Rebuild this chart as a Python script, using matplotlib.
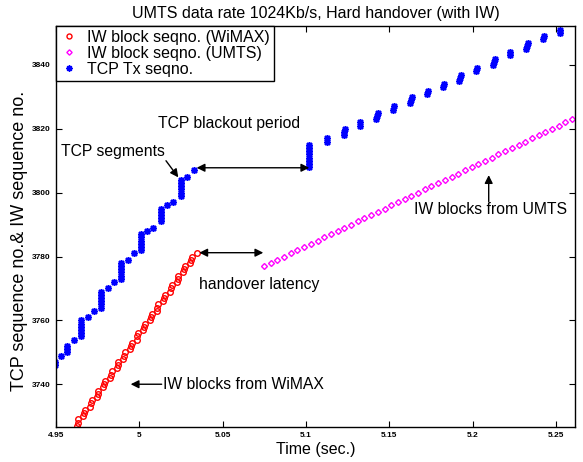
import matplotlib.pyplot as plt

plt.rcParams['font.family'] = ['Liberation Sans', 'DejaVu Sans']

# IW blocks delivered over WiMAX before the handover
wimax_time = [
    4.9624, 4.9629, 4.9634,
    4.9664, 4.9669, 4.9674,
    4.9704, 4.9709, 4.9714,
    4.9744, 4.9749, 4.9754,
    4.9784, 4.9789, 4.9794,
    4.9824, 4.9829, 4.9834,
    4.9864, 4.9869, 4.9874,
    4.9904, 4.9909, 4.9914,
    4.9944, 4.9949, 4.9954,
    4.9984, 4.9989, 4.9994,
    5.0024, 5.0029, 5.0034,
    5.0064, 5.0069, 5.0074,
    5.0104, 5.0109, 5.0114,
    5.0145, 5.0150, 5.0155,
    5.0185, 5.0190, 5.0195,
    5.0225, 5.0230, 5.0235,
    5.0265, 5.0270, 5.0275,
    5.0305, 5.0310, 5.0315,
    5.0345,
]
wimax_seq = [
    3727, 3728, 3729, 3730, 3731, 3732, 3733, 3734, 3735, 3736, 3737,
    3738, 3739, 3740, 3741, 3742, 3743, 3744, 3745, 3746, 3747, 3748,
    3749, 3750, 3751, 3752, 3753, 3754, 3755, 3756, 3757, 3758, 3759,
    3760, 3761, 3762, 3763, 3764, 3765, 3766, 3767, 3768, 3769, 3770,
    3771, 3772, 3773, 3774, 3775, 3776, 3777, 3778, 3779, 3780, 3781,
]

# IW blocks delivered over UMTS after the handover
umts_time = [
    5.0748, 5.0788, 5.0828, 5.0869, 5.0909, 5.0949, 5.0989, 5.1029,
    5.1070, 5.1110, 5.1150, 5.1190, 5.1230, 5.1271, 5.1311, 5.1351,
    5.1391, 5.1431, 5.1472, 5.1512, 5.1552, 5.1592, 5.1632, 5.1673,
    5.1713, 5.1753, 5.1793, 5.1833, 5.1874, 5.1914, 5.1954, 5.1994,
    5.2034, 5.2075, 5.2115, 5.2155, 5.2195, 5.2235, 5.2276, 5.2316,
    5.2356, 5.2396, 5.2436, 5.2477, 5.2517, 5.2557, 5.2597,
]
umts_seq = [
    3777, 3778, 3779, 3780, 3781, 3782, 3783, 3784, 3785, 3786, 3787,
    3788, 3789, 3790, 3791, 3792, 3793, 3794, 3795, 3796, 3797, 3798,
    3799, 3800, 3801, 3802, 3803, 3804, 3805, 3806, 3807, 3808, 3809,
    3810, 3811, 3812, 3813, 3814, 3815, 3816, 3817, 3818, 3819, 3820,
    3821, 3822, 3823,
]

# TCP segments sent by the source (bursts share the same time stamp)
tcp_time = [
    4.9495, 4.9495,
    4.9530,
    4.9568, 4.9568, 4.9568,
    4.9608,
    4.9650, 4.9650, 4.9650, 4.9650, 4.9650, 4.9650,
    4.9690,
    4.9728,
    4.9770, 4.9770, 4.9770, 4.9770, 4.9770, 4.9770,
    4.9810,
    4.9850,
    4.9888, 4.9888, 4.9888, 4.9888, 4.9888, 4.9888,
    4.9930,
    4.9970,
    5.0008, 5.0008, 5.0008, 5.0008, 5.0008, 5.0008,
    5.0044,
    5.0084,
    5.0128, 5.0128, 5.0128, 5.0128, 5.0128,
    5.0168,
    5.0204,
    5.0249, 5.0249, 5.0249, 5.0249, 5.0249, 5.0249,
    5.0288,
    5.0328,
    5.1020, 5.1020, 5.1020, 5.1020, 5.1020, 5.1020, 5.1020, 5.1020,
    5.1124, 5.1128,
    5.1226, 5.1231, 5.1236,
    5.1322, 5.1327,
    5.1420, 5.1425, 5.1430,
    5.1522, 5.1527,
    5.1624, 5.1629, 5.1634,
    5.1726, 5.1731,
    5.1822, 5.1827,
    5.1920, 5.1925, 5.1930,
    5.2022, 5.2027,
    5.2124, 5.2129, 5.2134,
    5.2222, 5.2227,
    5.2320, 5.2325, 5.2330,
    5.2422, 5.2427,
    5.2522, 5.2527,
]
tcp_seq = [
    3746, 3747,
    3749,
    3750, 3751, 3752,
    3754,
    3755, 3756, 3757, 3758, 3759, 3760,
    3761,
    3763,
    3764, 3765, 3766, 3767, 3768, 3769,
    3770,
    3772,
    3773, 3774, 3775, 3776, 3777, 3778,
    3779,
    3781,
    3782, 3783, 3784, 3785, 3786, 3787,
    3788,
    3789,
    3791, 3792, 3793, 3794, 3795,
    3796,
    3797,
    3799, 3800, 3801, 3802, 3803, 3804,
    3805,
    3807,
    3808, 3809, 3810, 3811, 3812, 3813, 3814, 3815,
    3816, 3817,
    3818, 3819, 3820,
    3821, 3822,
    3823, 3824, 3825,
    3826, 3827,
    3828, 3829, 3830,
    3831, 3832,
    3833, 3834,
    3835, 3836, 3837,
    3838, 3839,
    3840, 3841, 3842,
    3843, 3844,
    3845, 3846, 3847,
    3848, 3849,
    3850, 3851,
]

x_ticks = [4.95, 5.0, 5.05, 5.1, 5.15, 5.2, 5.25]
x_tick_labels = ['4.95', '5', '5.05', '5.1', '5.15', '5.2', '5.25']
y_ticks = [3740, 3760, 3780, 3800, 3820, 3840]

FS = 11.3

fig = plt.figure(figsize=(5.83, 4.62), dpi=100)
ax = fig.add_axes([0.0961, 0.0764, 0.8902, 0.8673])

ax.plot(wimax_time, wimax_seq, ls='none', marker='o', mfc='none', mec=(1, 0, 0),
        ms=4.0, mew=1.0, label='IW block seqno. (WiMAX)')
ax.plot(umts_time, umts_seq, ls='none', marker='D', mfc='none', mec=(1, 0, 1),
        ms=3.0, mew=1.0, label='IW block seqno. (UMTS)')
ax.plot(tcp_time, tcp_seq, ls='none', marker=(8, 2, 0), color=(0, 0, 1),
        ms=5.0, mew=1.1, label='TCP Tx seqno.')

ax.set_xlim(4.95, 5.2615)
ax.set_ylim(3726.7, 3852.2)
ax.set_xticks(x_ticks)
ax.set_xticklabels(x_tick_labels)
ax.set_yticks(y_ticks)
ax.tick_params(direction='in', top=True, right=True, length=4, width=0.8,
               labelsize=6, pad=4)
for lbl in ax.get_xticklabels() + ax.get_yticklabels():
    lbl.set_fontweight('bold')
for sp in ax.spines.values():
    sp.set_linewidth(1.0)

ax.set_title('UMTS data rate 1024Kb/s, Hard handover (with IW)', fontsize=11.5, pad=6)
ax.set_xlabel('Time (sec.)', fontsize=11.5, labelpad=2)
ax.set_ylabel('TCP sequence no.& IW sequence no.', fontsize=13)
ax.yaxis.set_label_coords(-0.054, 0.463)

leg = ax.legend(loc='upper left', borderaxespad=0, fancybox=False, edgecolor='k',
                framealpha=1, fontsize=11.5, handlelength=1.1, handletextpad=0.6,
                labelspacing=0.05, borderpad=0.25, markerscale=0.9)
leg.get_frame().set_linewidth(1.0)

arrow = dict(arrowstyle='-|>', color='k', lw=1, mutation_scale=12, shrinkA=0, shrinkB=0)
double = dict(arrowstyle='<|-|>', color='k', lw=1, mutation_scale=12, shrinkA=0, shrinkB=0)

ax.text(5.0538, 3821.8, 'TCP blackout period', fontsize=FS, ha='center', va='center')
ax.annotate('', xy=(5.1020, 3807.8), xytext=(5.0344, 3807.8), arrowprops=double)

ax.text(4.9844, 3812.8, 'TCP segments', fontsize=FS, ha='center', va='center')
ax.annotate('', xy=(5.0234, 3804.8), xytext=(5.0160, 3810.0), arrowprops=arrow)

ax.text(5.0360, 3771.1, 'handover latency', fontsize=FS, ha='left', va='center')
ax.annotate('', xy=(5.0744, 3781.2), xytext=(5.0360, 3781.2), arrowprops=double)

ax.text(5.0142, 3740.0, 'IW blocks from WiMAX', fontsize=FS, ha='left', va='center')
ax.annotate('', xy=(4.9948, 3740.0), xytext=(5.0134, 3740.0), arrowprops=arrow)

ax.text(5.2107, 3794.6, 'IW blocks from UMTS', fontsize=FS, ha='center', va='center')
ax.annotate('', xy=(5.2097, 3805.5), xytext=(5.2097, 3797.2), arrowprops=arrow)

fig.savefig('out.png', dpi=100)
